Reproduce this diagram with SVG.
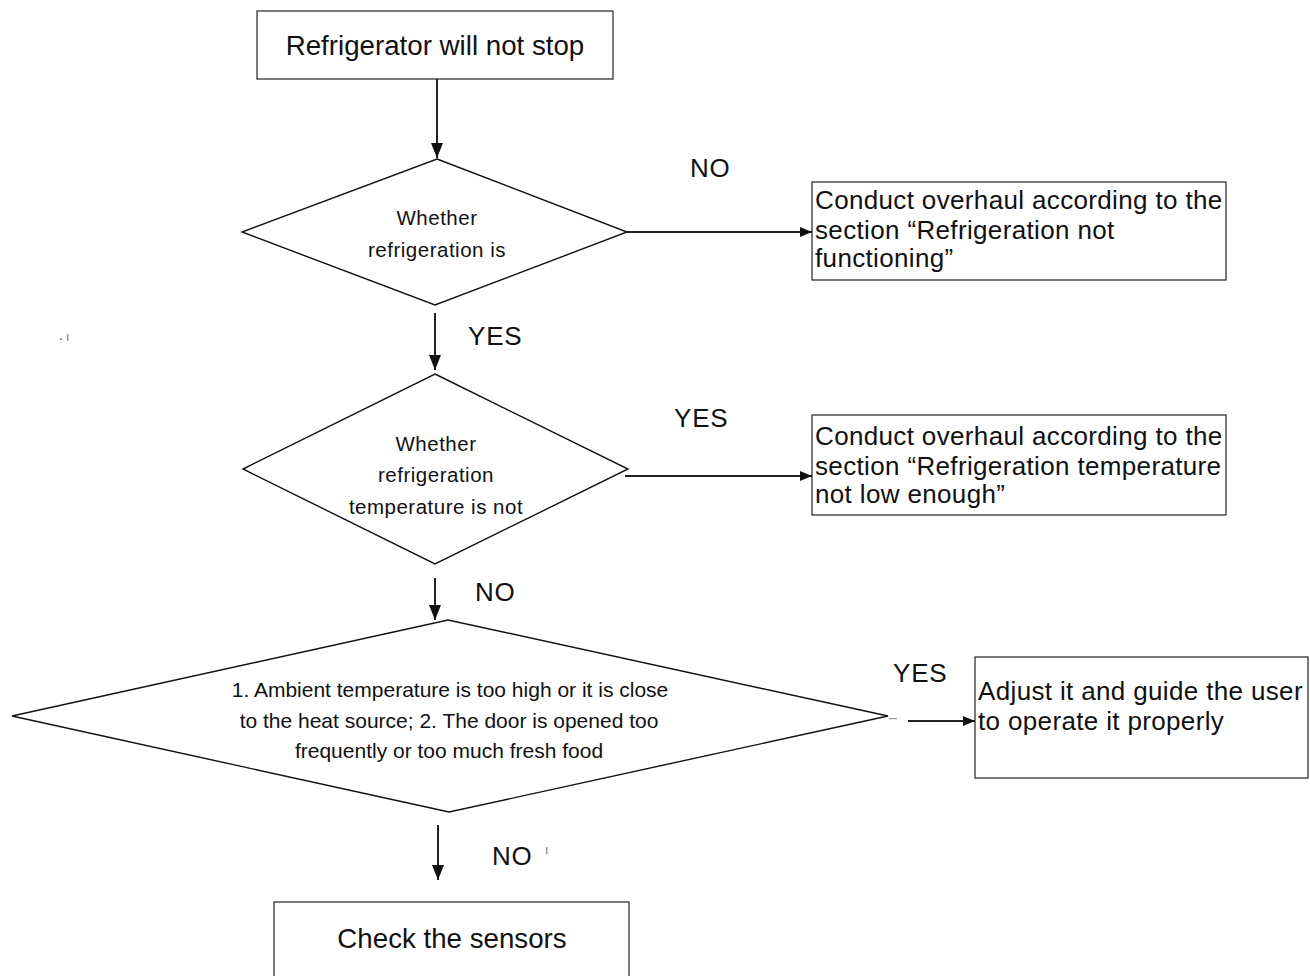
<svg xmlns="http://www.w3.org/2000/svg" width="1310" height="976" viewBox="0 0 1310 976">
<style>
text{font-family:"Liberation Sans",Arial,sans-serif;fill:#111}
.box{fill:#fff;stroke:#222;stroke-width:1.2}
.dia{fill:#fff;stroke:#111;stroke-width:1.4}
.big{font-size:27.7px;text-anchor:middle}
.side{font-size:26px;letter-spacing:0.35px}
.dt{font-size:20.5px;letter-spacing:0.5px;text-anchor:middle}
.bt{font-size:21px;text-anchor:middle}
.lbl{font-size:26px;letter-spacing:0.8px}
.con{stroke:#222;stroke-width:2;fill:none}
</style>
<defs>
<marker id="ah" markerUnits="userSpaceOnUse" markerWidth="15" markerHeight="12" refX="15" refY="6" orient="auto">
<path d="M0,0 L15,6 L0,12 Z" fill="#111"/>
</marker>
<marker id="ahs" markerUnits="userSpaceOnUse" markerWidth="12" markerHeight="10" refX="12" refY="5" orient="auto">
<path d="M0,0 L12,5 L0,10 Z" fill="#111"/>
</marker>
</defs>
<rect width="1310" height="976" fill="#fff"/>
<g id="start">
<rect class="box" x="257" y="11" width="356" height="68"/>
<text class="big" x="435" y="55">Refrigerator will not stop</text>
</g>
<g id="decision1">
<polygon class="dia" points="437,159 627,232 435,305 242,232"/>
<text class="dt" x="437" y="225">Whether</text>
<text class="dt" x="437" y="257">refrigeration is</text>
</g>
<g id="overhaul1">
<rect class="box" x="812" y="182" width="414" height="98"/>
<text class="side" x="815" y="209">Conduct overhaul according to the</text>
<text class="side" x="815" y="239">section “Refrigeration not</text>
<text class="side" x="815" y="267">functioning”</text>
</g>
<g id="decision2">
<polygon class="dia" points="435,374 628,469 435,564 243,469"/>
<text class="dt" x="436" y="451">Whether</text>
<text class="dt" x="436" y="482">refrigeration</text>
<text class="dt" x="436" y="514">temperature is not</text>
</g>
<g id="overhaul2">
<rect class="box" x="812" y="415" width="414" height="100"/>
<text class="side" x="815" y="445">Conduct overhaul according to the</text>
<text class="side" x="815" y="475">section “Refrigeration temperature</text>
<text class="side" x="815" y="503">not low enough”</text>
</g>
<g id="decision3">
<polygon class="dia" points="448,620 888,716 449,812 12,716"/>
<text class="bt" x="450" y="697">1. Ambient temperature is too high or it is close</text>
<text class="bt" x="449" y="728">to the heat source; 2. The door is opened too</text>
<text class="bt" x="449" y="758">frequently or too much fresh food</text>
</g>
<g id="adjust">
<rect class="box" x="975" y="657" width="333" height="121"/>
<text class="side" x="978" y="700">Adjust it and guide the user</text>
<text class="side" x="978" y="730">to operate it properly</text>
</g>
<g id="sensors">
<rect class="box" x="274" y="902" width="355" height="90"/>
<text class="big" x="452" y="948">Check the sensors</text>
</g>
<g id="connectors">
<line class="con" x1="437" y1="79" x2="437" y2="158" marker-end="url(#ah)"/>
<line class="con" x1="627" y1="232" x2="812" y2="232" marker-end="url(#ahs)"/>
<line class="con" x1="435" y1="313" x2="435" y2="370" marker-end="url(#ah)"/>
<line class="con" x1="625" y1="476" x2="812" y2="476" marker-end="url(#ahs)"/>
<line class="con" x1="435" y1="578" x2="435" y2="620" marker-end="url(#ah)"/>
<line class="con" x1="908" y1="721" x2="975" y2="721" marker-end="url(#ahs)"/>
<line class="con" x1="438" y1="825" x2="438" y2="880" marker-end="url(#ah)"/>
<text class="lbl" x="690" y="177">NO</text>
<text class="lbl" x="468" y="345">YES</text>
<text class="lbl" x="674" y="427">YES</text>
<text class="lbl" x="475" y="601">NO</text>
<text class="lbl" x="893" y="682">YES</text>
<text class="lbl" x="492" y="865">NO</text>
</g>
<g id="marks" fill="#999">
<rect x="60" y="338" width="2" height="2"/>
<rect x="67" y="334" width="1.5" height="7"/>
<rect x="546" y="847" width="1.5" height="7"/>
<rect x="889" y="718" width="8" height="1.2"/>
</g>
</svg>
